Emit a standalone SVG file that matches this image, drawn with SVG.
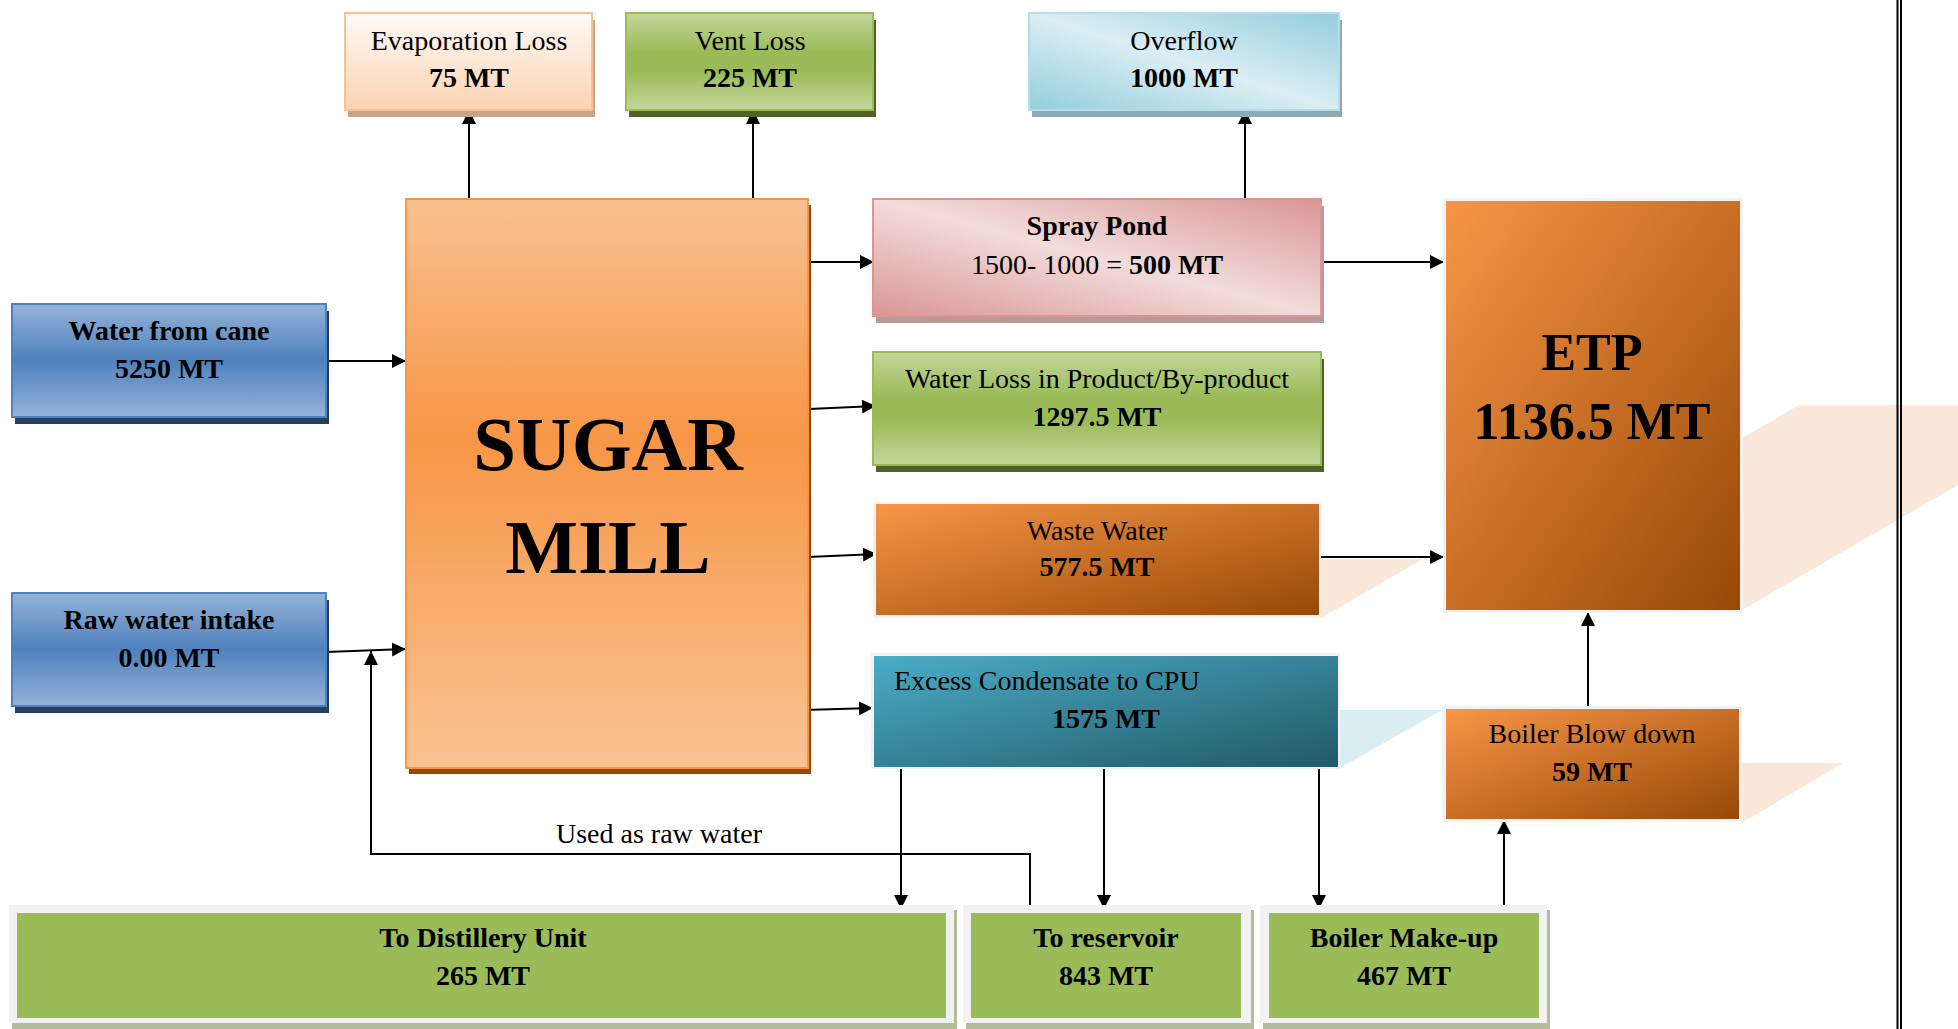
<svg xmlns="http://www.w3.org/2000/svg" width="1958" height="1029" viewBox="0 0 1958 1029">
<defs>
<style>
text{font-family:"Liberation Serif","Times New Roman",serif;fill:#000;}
.t{font-size:28px;text-anchor:middle;}
.b{font-weight:bold;}
.big{font-size:77px;font-weight:bold;text-anchor:middle;}
.etp{font-size:52px;font-weight:bold;text-anchor:middle;}
.c{stroke:#000;stroke-width:2;fill:none;}
.ring{fill:#f2f2f2;}
.refl{stroke:none;}
</style>
<linearGradient id="gEvap" x1="0" y1="0" x2="0" y2="1"><stop offset="0" stop-color="#fefaf7"/><stop offset="1" stop-color="#fbd3b2"/></linearGradient>
<linearGradient id="gGreen" x1="0" y1="0" x2="0" y2="1"><stop offset="0" stop-color="#c3d69b"/><stop offset="0.4" stop-color="#9bbb59"/><stop offset="0.6" stop-color="#9bbb59"/><stop offset="1" stop-color="#c3d69b"/></linearGradient>
<linearGradient id="gBlue" x1="0" y1="0" x2="0" y2="1"><stop offset="0" stop-color="#95b3d7"/><stop offset="0.5" stop-color="#4f81bd"/><stop offset="1" stop-color="#95b3d7"/></linearGradient>
<linearGradient id="gMill" x1="0" y1="0" x2="0" y2="1"><stop offset="0" stop-color="#f9c191"/><stop offset="0.42" stop-color="#f79646"/><stop offset="1" stop-color="#f9c393"/></linearGradient>
<linearGradient id="gPink" x1="0" y1="1" x2="1" y2="0"><stop offset="0" stop-color="#d99694"/><stop offset="0.5" stop-color="#f2dcdb"/><stop offset="1" stop-color="#d99694"/></linearGradient>
<linearGradient id="gSky" x1="0" y1="1" x2="1" y2="0"><stop offset="0" stop-color="#93cddd"/><stop offset="0.5" stop-color="#dbeef3"/><stop offset="1" stop-color="#93cddd"/></linearGradient>
<linearGradient id="gOrange" x1="0" y1="0" x2="1" y2="1"><stop offset="0" stop-color="#f79646"/><stop offset="1" stop-color="#984807"/></linearGradient>
<linearGradient id="gTeal" x1="0" y1="0" x2="1" y2="1"><stop offset="0" stop-color="#4bacc6"/><stop offset="1" stop-color="#215968"/></linearGradient>
<marker id="ah" markerUnits="userSpaceOnUse" markerWidth="14" markerHeight="14" refX="14" refY="7" orient="auto"><path d="M0,0 L14,7 L0,14 z" fill="#000"/></marker>
</defs>
<rect width="1958" height="1029" fill="#fff"/>

<!-- reflections -->
<g id="reflections" class="refl">
<polygon points="1742,438 1799,405 1958,405 1958,485 1742,610" fill="#fae8da"/>
<polygon points="1320,559 1423,559 1321,618" fill="#fae8da"/>
<polygon points="1338,710 1442,710 1340,768" fill="#daedf3"/>
<polygon points="1742,763 1843,763 1742,823" fill="#fae8da"/>
</g>

<!-- page border -->
<g id="page-border">
<line x1="1897.5" y1="0" x2="1897.5" y2="1029" stroke="#000" stroke-width="2"/>
<line x1="1901" y1="0" x2="1901" y2="1029" stroke="#000" stroke-width="2"/>
</g>

<g id="connectors">
<line class="c" x1="469" y1="199" x2="469" y2="110" marker-end="url(#ah)"/>
<line class="c" x1="753" y1="199" x2="753" y2="110" marker-end="url(#ah)"/>
<line class="c" x1="1245" y1="199" x2="1245" y2="110" marker-end="url(#ah)"/>
<line class="c" x1="326" y1="361" x2="406" y2="361" marker-end="url(#ah)"/>
<line class="c" x1="326" y1="652" x2="406" y2="649" marker-end="url(#ah)"/>
<line class="c" x1="808" y1="262" x2="874" y2="262" marker-end="url(#ah)"/>
<line class="c" x1="809" y1="409" x2="876" y2="406" marker-end="url(#ah)"/>
<line class="c" x1="808" y1="557" x2="877" y2="554" marker-end="url(#ah)"/>
<line class="c" x1="804" y1="710" x2="873" y2="708" marker-end="url(#ah)"/>
<line class="c" x1="1321" y1="262" x2="1444" y2="262" marker-end="url(#ah)"/>
<line class="c" x1="1320" y1="557" x2="1444" y2="557" marker-end="url(#ah)"/>
<line class="c" x1="1588" y1="709" x2="1588" y2="612" marker-end="url(#ah)"/>
<line class="c" x1="901" y1="767" x2="901" y2="909" marker-end="url(#ah)"/>
<line class="c" x1="1104" y1="767" x2="1104" y2="909" marker-end="url(#ah)"/>
<line class="c" x1="1319" y1="767" x2="1319" y2="909" marker-end="url(#ah)"/>
<line class="c" x1="1504" y1="905" x2="1504" y2="820" marker-end="url(#ah)"/>
<polyline class="c" points="1030,905 1030,854 371,854 371,651" marker-end="url(#ah)"/>
<text class="t" x="659" y="843">Used as raw water</text>
</g>

<g id="evaporation-loss">
<rect x="348" y="20" width="247" height="97" fill="#c9a58a"/>
<rect x="345" y="13" width="247" height="97" fill="url(#gEvap)" stroke="#fac090" stroke-width="2"/>
<text class="t" x="469" y="50">Evaporation Loss</text>
<text class="t b" x="469" y="87">75 MT</text>
</g>

<g id="vent-loss">
<rect x="629" y="20" width="247" height="97" fill="#4f6228"/>
<rect x="626" y="13" width="247" height="97" fill="url(#gGreen)" stroke="#9bbb59" stroke-width="2"/>
<text class="t" x="750" y="50">Vent Loss</text>
<text class="t b" x="750" y="87">225 MT</text>
</g>

<g id="overflow">
<rect x="1032" y="20" width="310" height="97" fill="#8faab4"/>
<rect x="1029" y="13" width="310" height="97" fill="url(#gSky)" stroke="#b7dde8" stroke-width="2"/>
<text class="t" x="1184" y="50">Overflow</text>
<text class="t b" x="1184" y="87">1000 MT</text>
</g>

<g id="water-from-cane">
<rect x="15" y="311" width="314" height="113" fill="#243f60"/>
<rect x="12" y="304" width="314" height="113" fill="url(#gBlue)" stroke="#4f81bd" stroke-width="2"/>
<text class="t b" x="169" y="340">Water from cane</text>
<text class="t b" x="169" y="378">5250 MT</text>
</g>

<g id="raw-water-intake">
<rect x="15" y="600" width="314" height="113" fill="#243f60"/>
<rect x="12" y="593" width="314" height="113" fill="url(#gBlue)" stroke="#4f81bd" stroke-width="2"/>
<text class="t b" x="169" y="629">Raw water intake</text>
<text class="t b" x="169" y="667">0.00 MT</text>
</g>

<g id="sugar-mill">
<rect x="409" y="205" width="402" height="569" fill="#984807"/>
<rect x="406" y="199" width="402" height="569" fill="url(#gMill)" stroke="#f79646" stroke-width="2"/>
<text class="big" x="608" y="470">SUGAR</text>
<text class="big" x="608" y="573">MILL</text>
</g>

<g id="spray-pond">
<rect x="876" y="206" width="448" height="117" fill="#b89a98"/>
<rect x="873" y="199" width="448" height="117" fill="url(#gPink)" stroke="#d99694" stroke-width="2"/>
<text class="t b" x="1097" y="235">Spray Pond</text>
<text class="t" x="1097" y="274">1500- 1000 = <tspan class="b">500 MT</tspan></text>
</g>

<g id="water-loss">
<rect x="876" y="359" width="448" height="113" fill="#4f6228"/>
<rect x="873" y="352" width="448" height="113" fill="url(#gGreen)" stroke="#9bbb59" stroke-width="2"/>
<text class="t" x="1097" y="388">Water Loss in Product/By-product</text>
<text class="t b" x="1097" y="426">1297.5 MT</text>
</g>

<g id="waste-water">
<rect class="ring" x="873" y="502" width="448" height="116"/>
<rect x="876" y="504" width="443" height="111" fill="url(#gOrange)"/>
<text class="t" x="1097" y="540">Waste Water</text>
<text class="t b" x="1097" y="576">577.5 MT</text>
</g>

<g id="excess-condensate">
<rect class="ring" x="871" y="653" width="469" height="116"/>
<rect x="874" y="656" width="464" height="111" fill="url(#gTeal)"/>
<text style="font-size:28px" x="894" y="690">Excess Condensate to CPU</text>
<text class="t b" x="1106" y="728">1575 MT</text>
</g>

<g id="etp">
<rect class="ring" x="1443" y="198" width="300" height="415"/>
<rect x="1446" y="201" width="294" height="409" fill="url(#gOrange)"/>
<text class="etp" x="1592" y="370">ETP</text>
<text class="etp" x="1592" y="439">1136.5 MT</text>
</g>

<g id="boiler-blow-down">
<rect class="ring" x="1442" y="706" width="300" height="116"/>
<rect x="1446" y="709" width="293" height="110" fill="url(#gOrange)"/>
<text class="t" x="1592" y="743">Boiler Blow down</text>
<text class="t b" x="1592" y="781">59 MT</text>
</g>

<g id="to-distillery">
<rect x="12" y="910" width="945" height="119" fill="#b3bb9c"/>
<rect class="ring" x="9" y="905" width="945" height="118"/>
<rect x="17" y="913" width="929" height="105" fill="#9bbb59"/>
<text class="t b" x="483" y="947">To Distillery Unit</text>
<text class="t b" x="483" y="985">265 MT</text>
</g>

<g id="to-reservoir">
<rect x="966" y="910" width="288" height="119" fill="#b3bb9c"/>
<rect class="ring" x="963" y="905" width="288" height="118"/>
<rect x="971" y="913" width="270" height="105" fill="#9bbb59"/>
<text class="t b" x="1106" y="947">To reservoir</text>
<text class="t b" x="1106" y="985">843 MT</text>
</g>

<g id="boiler-make-up">
<rect x="1263" y="910" width="287" height="119" fill="#b3bb9c"/>
<rect class="ring" x="1260" y="905" width="287" height="118"/>
<rect x="1269" y="913" width="270" height="105" fill="#9bbb59"/>
<text class="t b" x="1404" y="947">Boiler Make-up</text>
<text class="t b" x="1404" y="985">467 MT</text>
</g>
</svg>
